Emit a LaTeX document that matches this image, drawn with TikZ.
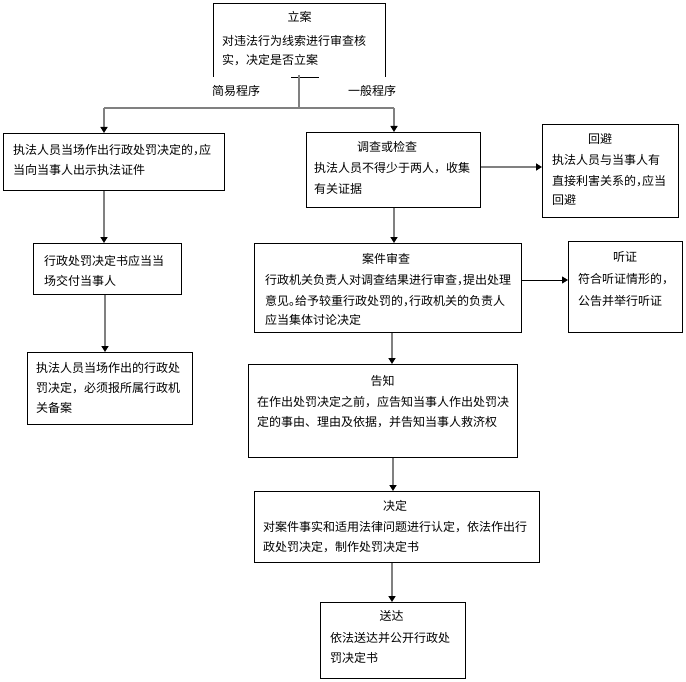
\documentclass[tikz,border=0pt]{standalone}
\usepackage{fontspec}
\newfontfamily\cjk{Noto Sans CJK SC}
\usetikzlibrary{arrows.meta}
\newcommand\nc{\makebox[6pt][l]{，}}
\newcommand\np{\makebox[6pt][l]{。}}
\begin{document}
\begin{tikzpicture}[x=1pt,y=-1pt,
  box/.style={draw=black,line width=1pt,rectangle,inner sep=0pt,anchor=north west},
  txt/.style={inner sep=0pt,anchor=west,font=\cjk\fontsize{12}{14}\selectfont,text height=0.88em,text depth=0.12em},
  ttl/.style={txt,anchor=center},
  conn/.style={draw=black!50,line width=2pt},
  arr/.style={conn,-{Triangle[width=7pt,length=6pt,color=black]}},
  thinarr/.style={draw=black,line width=1pt,-{Triangle[width=7pt,length=6pt,color=black]}}]
\useasboundingbox[fill=white] (0,0) rectangle (686,682);

% top box (open at bottom)
\node[box,draw=none,minimum width=171pt,minimum height=72pt] (la) at (213,4) {};
\draw[line width=1pt] (la.south west) |- (la.north east) -- (la.south east);
\node[ttl] (la-t) at (299.5,18) {立案};
\node[txt] (la-1) at (222,42) {对违法行为线索进行审查核};
\node[txt] (la-2) at (222,61) {实，决定是否立案};

\coordinate (bar-l) at (291,78);
\coordinate (bar-r) at (319,78);
\coordinate (stem) at (299,75);
\coordinate (jn) at (299,108);
\coordinate (xl) at (104,0);
\coordinate (xr) at (394,0);
\draw[line width=1pt] (bar-l) -- (bar-r);
\draw[conn] (stem) -- (jn);

\node[txt] (jy) at (212,92) {简易程序};
\node[txt] (yb) at (348,92) {一般程序};

% left chain
\node[box,minimum width=221pt,minimum height=57pt] (b1) at (3,133) {};
\node[txt] (b1-1) at (13,151) {执法人员当场作出行政处罚决定的\nc 应};
\node[txt] (b1-2) at (13,171) {当向当事人出示执法证件};

\node[box,minimum width=148pt,minimum height=51pt] (b2) at (33,243) {};
\node[txt] (b2-1) at (44,262) {行政处罚决定书应当当};
\node[txt] (b2-2) at (44,282) {场交付当事人};

\node[box,minimum width=165pt,minimum height=72pt] (b3) at (27,352) {};
\node[txt] (b3-1) at (36,369) {执法人员当场作出的行政处};
\node[txt] (b3-2) at (36,389) {罚决定，必须报所属行政机};
\node[txt] (b3-3) at (36,409) {关备案};

% right chain
\node[box,minimum width=174pt,minimum height=75pt] (dc) at (306,132) {};
\node[ttl] (dc-t) at (387,148) {调查或检查};
\node[txt] (dc-1) at (314,169) {执法人员不得少于两人，收集};
\node[txt] (dc-2) at (314,190) {有关证据};

\node[box,minimum width=136pt,minimum height=93pt] (hb) at (542,124) {};
\node[ttl] (hb-t) at (600,140) {回避};
\node[txt] (hb-1) at (552,161) {执法人员与当事人有};
\node[txt] (hb-2) at (552,182) {直接利害关系的\nc 应当};
\node[txt] (hb-3) at (552,201) {回避};

\node[box,minimum width=267pt,minimum height=89pt] (sc) at (254,243) {};
\node[ttl] (sc-t) at (386,260) {案件审查};
\node[txt] (sc-1) at (265,281) {行政机关负责人对调查结果进行审查\nc 提出处理};
\node[txt] (sc-2) at (265,302) {意见\np 给予较重行政处罚的\nc 行政机关的负责人};
\node[txt] (sc-3) at (265,321) {应当集体讨论决定};

\node[box,minimum width=114pt,minimum height=91pt] (tz) at (568,241) {};
\node[ttl] (tz-t) at (625,258) {听证};
\node[txt] (tz-1) at (578,280) {符合听证情形的，};
\node[txt] (tz-2) at (578,302) {公告并举行听证};

\node[box,minimum width=269pt,minimum height=93pt] (gz) at (248,364) {};
\node[ttl] (gz-t) at (382.5,382) {告知};
\node[txt] (gz-1) at (257,403) {在作出处罚决定之前，应告知当事人作出处罚决};
\node[txt] (gz-2) at (257,423) {定的事由、理由及依据，并告知当事人救济权};

\node[box,minimum width=285pt,minimum height=71pt] (jd) at (254,491) {};
\node[ttl] (jd-t) at (395,507) {决定};
\node[txt] (jd-1) at (263,528) {对案件事实和适用法律问题进行认定，依法作出行};
\node[txt] (jd-2) at (263,548) {政处罚决定，制作处罚决定书};

\node[box,minimum width=145pt,minimum height=76pt] (sd) at (320,602) {};
\node[ttl] (sd-t) at (391.5,617) {送达};
\node[txt] (sd-1) at (330,639) {依法送达并公开行政处};
\node[txt] (sd-2) at (330,659) {罚决定书};

% connectors
\draw[conn] (jn) -- (jn -| xl);
\draw[conn] (jn) -- (jn -| xr);
\draw[arr] (jn -| xl) -- (b1.north -| xl);
\draw[arr] (jn -| xr) -- (dc.north -| xr);

\coordinate (xl2) at (105,0);
\draw[arr] (b1.south -| xl) -- (b2.north -| xl);
\draw[arr] (b2.south -| xl2) -- (b3.north -| xl2);

\coordinate (y1) at (0,167);
\coordinate (y2) at (0,280);
\draw[arr] (dc.east |- y1) -- (hb.west |- y1);
\draw[thinarr] (sc.east |- y2) -- (tz.west |- y2);

\coordinate (xm) at (392,0);
\coordinate (xm2) at (393,0);
\draw[arr] (dc.south -| xr) -- (sc.north -| xr);
\draw[arr] (sc.south -| xm) -- (gz.north -| xm);
\draw[arr] (gz.south -| xm2) -- (jd.north -| xm2);
\draw[arr] (jd.south -| xm) -- (sd.north -| xm);
\end{tikzpicture}
\end{document}
